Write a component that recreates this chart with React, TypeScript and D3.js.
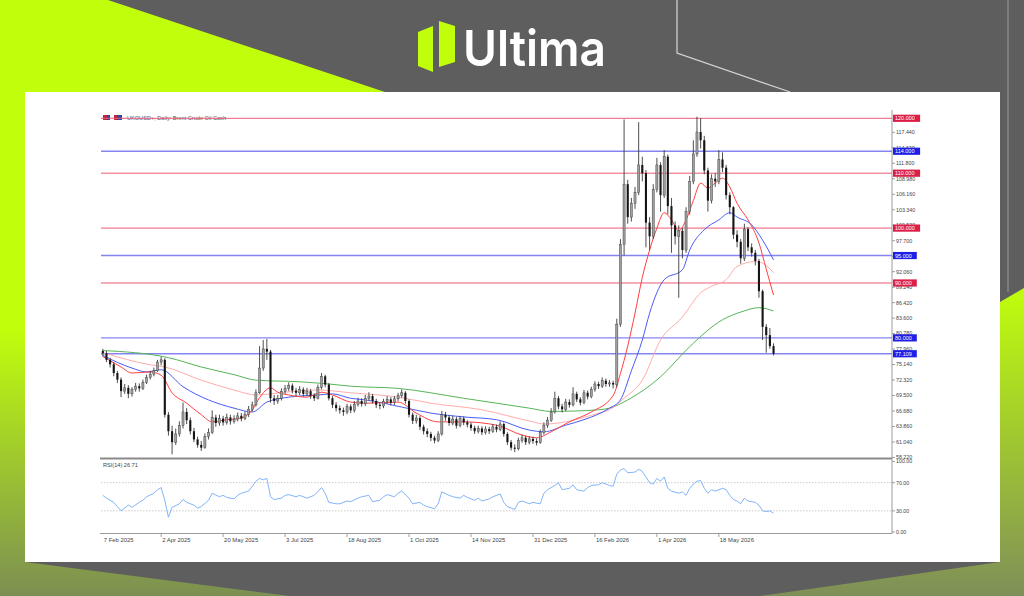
import React from "react";
import * as d3 from "d3";

const W = 1024;
const H = 596;

// ---- Price data (2-day bars), open = previous close ----
const firstOpen = 77.6;
const closes = [
  77.2, 76.0, 75.2, 73.6, 72.4, 70.3, 70.9, 69.8, 70.6, 71.2,
  70.8, 71.9, 72.8, 73.4, 74.0, 75.6, 76.0, 66.0, 63.0, 61.0,
  62.5, 64.0, 66.5, 65.0, 63.0, 61.5, 60.5, 60.0, 62.0, 62.8,
  65.5, 64.5, 65.3, 64.6, 65.5, 64.8, 65.2, 65.8, 65.3, 66.0,
  67.0, 67.8, 70.0, 74.5, 78.0, 77.5, 69.0, 68.5, 69.0, 70.2,
  70.8, 71.3, 70.4, 70.0, 70.6, 69.8, 70.3, 69.5, 69.0, 71.0,
  73.0, 71.5, 69.0, 67.8, 67.2, 66.8, 66.5, 67.5, 66.8, 67.9,
  68.5, 68.0, 69.0, 69.4, 68.5, 67.8, 67.6, 68.4, 68.8, 68.2,
  68.9, 69.5, 70.0, 68.5, 66.0, 64.9, 65.4, 63.8, 63.0, 62.5,
  61.8, 61.3, 62.5, 66.0, 65.5, 64.5, 65.2, 64.0, 65.3, 64.6,
  64.2, 63.6, 63.0, 63.5, 62.8, 63.4, 63.0, 63.8, 63.3, 64.3,
  62.5, 61.0, 60.0, 59.8, 61.3, 61.8, 61.0, 61.6, 61.2, 60.9,
  62.8, 64.0, 65.0, 66.5, 69.0, 67.5, 67.0, 68.3, 67.8, 69.8,
  68.8, 68.2, 70.0, 69.3, 70.6, 71.6, 71.2, 72.2, 71.6, 71.8,
  71.5, 82.5, 97.0, 108.0, 102.0, 104.5, 106.5, 111.5, 110.0, 101.0,
  98.5, 107.0, 111.5, 106.0, 113.0, 104.0, 100.5, 98.5, 99.5, 96.0,
  103.0, 108.5, 113.5, 117.5, 116.0, 110.5, 105.0, 109.0, 108.5, 112.5,
  111.0, 106.0, 103.8, 98.8, 97.5, 94.5, 99.8, 96.5, 95.5, 94.0,
  88.5, 82.0, 80.5, 78.5, 77.1,
];
const highs = [
  78.0, 77.6, 76.4, 75.6, 74.0, 72.8, 71.6, 71.4, 71.0, 71.8,
  71.7, 72.4, 73.3, 74.0, 74.6, 76.0, 76.6, 76.3, 66.5, 64.0,
  63.5, 64.8, 68.2, 67.2, 65.5, 63.6, 62.0, 61.2, 62.6, 63.5,
  66.8, 66.0, 66.0, 65.8, 66.2, 66.0, 65.9, 66.4, 66.3, 66.6,
  67.6, 68.4, 70.6, 78.5, 79.6, 79.8, 77.8, 69.6, 69.6, 70.8,
  71.4, 71.9, 71.7, 70.9, 71.2, 71.0, 70.9, 70.7, 69.9, 71.5,
  73.6, 73.3, 71.8, 69.4, 68.3, 67.7, 67.3, 68.0, 67.9, 68.5,
  69.1, 69.0, 69.6, 70.1, 69.8, 68.9, 68.3, 68.9, 69.4, 69.2,
  69.4, 70.0, 70.6, 70.3, 68.8, 66.4, 66.0, 65.8, 64.2, 63.5,
  62.9, 62.2, 63.0, 66.7, 66.5, 65.9, 65.8, 65.6, 65.8, 65.7,
  65.0, 64.6, 64.0, 64.0, 63.9, 63.9, 63.8, 64.3, 64.2, 64.8,
  64.6, 62.8, 61.4, 60.6, 61.8, 62.4, 62.2, 62.1, 62.0, 61.7,
  63.3, 64.6, 65.6, 67.2, 70.2, 69.4, 68.0, 68.9, 68.8, 71.0,
  70.2, 69.2, 70.5, 70.4, 71.1, 72.1, 72.0, 72.8, 72.6, 72.3,
  72.2, 83.5, 98.0, 119.8, 108.8, 105.5, 107.5, 119.3, 113.0, 110.6,
  102.0, 108.0, 112.8, 112.0, 114.2, 113.4, 105.5, 101.2, 100.5, 100.0,
  103.8, 109.5, 116.0, 120.3, 120.0, 116.8, 111.0, 109.8, 110.0, 114.2,
  113.8, 111.5, 106.5, 104.0, 99.6, 98.0, 100.8, 100.2, 97.2, 96.0,
  94.4, 88.8, 82.5, 81.8, 79.0,
];
const lows = [
  76.6, 75.6, 74.6, 73.0, 71.8, 69.2, 69.8, 69.0, 69.3, 70.2,
  70.2, 70.5, 71.6, 72.4, 73.0, 73.8, 75.0, 65.5, 62.2, 58.8,
  60.5, 62.0, 63.5, 64.3, 62.4, 61.0, 60.0, 59.4, 59.8, 61.5,
  62.5, 63.8, 64.0, 64.0, 64.2, 64.2, 64.4, 64.8, 64.8, 65.0,
  65.6, 66.6, 67.5, 69.8, 74.0, 76.0, 68.2, 67.8, 68.0, 68.6,
  69.8, 70.3, 69.9, 69.4, 69.6, 69.3, 69.4, 68.9, 68.5, 68.8,
  70.6, 71.0, 68.6, 67.2, 66.6, 66.2, 65.8, 66.1, 66.3, 66.4,
  67.5, 67.5, 67.6, 68.6, 68.0, 67.2, 67.0, 67.2, 68.0, 67.7,
  67.8, 68.5, 69.1, 68.0, 65.5, 64.3, 64.4, 63.2, 62.4, 61.9,
  61.2, 60.8, 61.0, 62.2, 64.9, 64.0, 64.1, 63.5, 63.7, 64.1,
  63.7, 63.1, 62.5, 62.6, 62.3, 62.4, 62.5, 62.7, 62.8, 63.0,
  62.0, 60.5, 59.5, 59.2, 59.5, 60.9, 60.5, 60.6, 60.7, 60.4,
  60.7, 62.4, 63.6, 64.7, 66.2, 67.0, 66.4, 66.7, 67.3, 67.5,
  68.3, 67.7, 67.9, 68.8, 69.0, 70.2, 70.7, 70.9, 71.1, 71.1,
  70.8, 71.0, 82.0, 95.0, 100.8, 101.2, 103.5, 106.0, 108.5, 96.5,
  96.0, 98.0, 106.5, 103.0, 105.5, 102.5, 95.5, 97.0, 87.3, 94.5,
  95.5, 102.5, 108.0, 113.0, 114.5, 109.8, 103.0, 104.5, 107.5, 108.0,
  110.2, 105.2, 102.5, 98.0, 96.5, 93.5, 94.0, 95.8, 94.8, 93.2,
  87.3, 79.6, 77.3, 78.0, 76.8,
];

// ---- Moving averages: [bar, value] ----
const maRed: [number, number][] = [
  [0, 76.6], [5, 74.7], [8, 73.6], [13, 73.8], [16, 73.2], [19, 70.0], [23, 68.1], [27, 66.0],
  [30, 64.7], [34, 65.1], [38, 65.4], [41, 66.9], [43, 69.1], [46, 70.9], [48, 70.1], [51, 69.6],
  [56, 69.2], [60, 70.1], [63, 69.6], [68, 68.3], [72, 68.1], [81, 68.3], [86, 66.3], [92, 64.7],
  [99, 64.7], [108, 64.1], [115, 62.3], [119, 61.8], [123, 62.9], [128, 64.7], [134, 66.5],
  [140, 69.5], [142, 73.5], [144, 78.5], [146, 84.5], [148, 91.0], [150, 96.0], [152, 100.0],
  [154, 102.8], [156, 101.5], [158, 99.5], [160, 101.5], [162, 105.0], [164, 108.2], [166, 107.3],
  [168, 108.2], [170, 109.1], [172, 107.5], [174, 104.5], [177, 101.5], [180, 97.3], [182, 92.5],
  [184, 87.8],
];
const maBlue: [number, number][] = [
  [0, 76.8], [8, 74.5], [12, 73.8], [16, 74.2], [22, 71.1], [29, 68.7], [36, 67.2], [41, 66.5],
  [45, 68.3], [51, 69.2], [59, 69.6], [63, 69.8], [68, 69.0], [72, 68.7], [82, 67.4], [90, 66.3],
  [99, 65.6], [108, 65.1], [117, 63.2], [121, 62.9], [127, 64.1], [132, 65.1], [139, 67.2],
  [142, 68.7], [145, 74.0], [148, 79.6], [150, 84.5], [154, 90.6], [159, 92.4], [161, 96.0],
  [165, 99.7], [169, 101.5], [172, 102.8], [174, 102.0], [178, 100.6], [181, 97.8], [184, 94.2],
];
const maPink: [number, number][] = [
  [0, 77.3], [13, 75.1], [17, 74.7], [27, 72.3], [36, 70.5], [42, 69.6], [50, 70.1], [59, 70.5],
  [68, 70.0], [81, 69.2], [90, 68.1], [104, 66.9], [118, 64.7], [121, 64.3], [127, 64.7],
  [136, 66.3], [139, 66.9], [143, 69.0], [148, 72.3], [153, 79.6], [159, 83.8], [164, 88.2],
  [167, 89.4], [171, 90.6], [174, 93.0], [179, 93.9], [181, 93.6], [184, 91.9],
];
const maGreen: [number, number][] = [
  [0, 77.7], [18, 76.4], [27, 74.7], [36, 73.3], [42, 72.3], [54, 72.0], [62, 71.6], [68, 71.2],
  [81, 70.8], [99, 69.0], [117, 67.2], [123, 66.6], [136, 66.9], [139, 67.2], [144, 68.7],
  [153, 72.9], [161, 78.4], [170, 83.3], [175, 84.7], [180, 85.5], [184, 84.9],
];

// ---- RSI(14): [bar, value] ----
const rsiSeries: [number, number][] = [
  [0, 52], [1, 48], [3, 42], [4, 36], [5, 30], [7, 38], [8, 35], [10, 42], [11, 45], [12, 50],
  [14, 55], [15, 60], [16, 63], [17, 45], [18, 21], [19, 35], [21, 40], [22, 46], [23, 42],
  [25, 38], [26, 34], [27, 36], [29, 45], [30, 55], [32, 50], [33, 52], [34, 49], [36, 47],
  [37, 52], [38, 55], [40, 58], [41, 65], [42, 72], [43, 76], [44, 74], [45, 76], [46, 50],
  [47, 46], [49, 48], [50, 52], [51, 53], [53, 50], [54, 52], [56, 48], [57, 50], [58, 52],
  [60, 63], [61, 55], [62, 42], [64, 40], [65, 40], [67, 44], [68, 43], [70, 48], [71, 50],
  [73, 52], [74, 43], [76, 45], [77, 50], [78, 53], [80, 50], [81, 55], [82, 58], [84, 48],
  [85, 40], [87, 42], [88, 38], [89, 36], [91, 33], [92, 40], [93, 57], [95, 52], [96, 50],
  [98, 48], [99, 52], [100, 49], [102, 45], [103, 48], [104, 44], [106, 47], [107, 50],
  [109, 54], [110, 42], [111, 36], [113, 32], [114, 42], [115, 44], [117, 40], [118, 42],
  [120, 40], [121, 55], [122, 60], [124, 66], [125, 70], [126, 60], [128, 62], [129, 67],
  [130, 60], [132, 58], [133, 63], [134, 66], [136, 67], [137, 70], [139, 66], [140, 65],
  [141, 82], [142, 88], [143, 90], [144, 84], [146, 85], [147, 89], [148, 86], [150, 70],
  [151, 68], [152, 76], [153, 72], [154, 78], [155, 62], [156, 58], [158, 55], [159, 57],
  [160, 52], [161, 62], [162, 68], [163, 72], [164, 73], [165, 62], [166, 55], [167, 60],
  [168, 58], [170, 62], [171, 60], [172, 52], [173, 46], [174, 44], [175, 40], [176, 48],
  [177, 44], [179, 42], [180, 38], [181, 30], [182, 29], [183, 30], [184, 26.7],
];

// ---- Axis labels & levels ----
const dateLabels = [
  "7 Feb 2025", "2 Apr 2025", "20 May 2025", "3 Jul 2025", "18 Aug 2025", "1 Oct 2025",
  "14 Nov 2025", "31 Dec 2025", "16 Feb 2026", "1 Apr 2026", "18 May 2026",
];
const dateBars = [0, 16, 33, 50, 67, 84, 101, 118, 135, 152, 169];
const priceTickLabels = [
  "117.440", "114.620", "111.800", "108.980", "106.160", "103.340", "100.520", "97.700",
  "94.880", "92.060", "89.240", "86.420", "83.600", "80.780", "77.960", "75.140", "72.320",
  "69.500", "66.680", "63.860", "61.040", "58.220",
];
const levelValues = [120, 114, 110, 100, 95, 90, 80, 77.109];
const levelLabels = ["120.000", "114.000", "110.000", "100.000", "95.000", "90.000", "80.000", "77.109"];
const levelKinds = ["red", "blue", "red", "red", "blue", "red", "blue", "blue"];
const rsiTickValues = [100, 70, 30, 0];
const rsiTickLabels = ["100.00", "70.00", "30.00", "0.00"];
const chartTitle = "UKOUSD+, Daily:  Brent Crude Oil Cash";
const rsiTitle = "RSI(14) 26.71";
const brand = "Ultima";

const LIME = "#c0fe0c";
const AXIS_FONT = "'Liberation Sans', Arial, sans-serif";

export default function App() {
  const x = d3.scaleLinear().domain([-0.5, 216.5]).range([101, 892]);
  const y = d3.scaleLinear().domain([58.1, 120]).range([458.1, 118.3]);
  const yR = d3.scaleLinear().domain([0, 100]).range([532, 461.5]);

  const bars = closes.map((c, i) => {
    const o = i === 0 ? firstOpen : closes[i - 1];
    return { i, o, c, h: Math.max(highs[i], o, c), l: Math.min(lows[i], o, c) };
  });

  const maLine = d3
    .line<[number, number]>()
    .x((d) => x(d[0]))
    .y((d) => y(d[1]))
    .curve(d3.curveMonotoneX);
  const rsiLine = d3
    .line<[number, number]>()
    .x((d) => x(d[0]))
    .y((d) => yR(d[1]));

  const bodyW = 2.1;
  const chartLeft = 101;
  const chartRight = 892;

  return (
    <svg
      width={W}
      height={H}
      viewBox={`0 0 ${W} ${H}`}
      style={{ position: "absolute", left: 0, top: 0, display: "block" }}
    >
      <defs>
        <linearGradient id="leftFade" x1="0" y1="0" x2="0" y2="1">
          <stop offset="0" stopColor={LIME} />
          <stop offset="1" stopColor="#7c8f52" />
        </linearGradient>
        <linearGradient id="rightFade" x1="0" y1="0" x2="0" y2="1">
          <stop offset="0" stopColor={LIME} />
          <stop offset="1" stopColor="#7f8f58" />
        </linearGradient>
      </defs>

      {/* Banner background */}
      <rect x={0} y={0} width={W} height={H} fill="#5e5e5e" />
      <polygon points="0,0 108,0 385,92 25,92 25,330 0,330" fill={LIME} />
      <polygon points="0,330 25,330 25,562 290,596 0,596" fill="url(#leftFade)" />
      <polygon points="1024,288 1000,302 1000,562 760,596 1024,596" fill="url(#rightFade)" />
      <path d="M677,0 V53 L790,92" fill="none" stroke="#d8d8d8" strokeWidth={1.2} />
      <line x1={1008} y1={0} x2={1008} y2={292} stroke="#9a9a9a" strokeWidth={1} />

      {/* Logo */}
      <polygon points="418,32 433,26 433,72 418,66" fill={LIME} />
      <polygon points="439,21 455,26 455,62 439,67" fill={LIME} />
      <text
        x={463}
        y={65.5}
        fill="#ffffff"
        fontFamily="Inter, 'Open Sans', sans-serif"
        fontWeight={600}
        fontSize={50}
        textLength={143}
        lengthAdjust="spacingAndGlyphs"
      >
        {brand}
      </text>

      {/* White panel */}
      <rect x={25} y={92} width={975} height={470} fill="#ffffff" />

      {/* Header */}
      <rect x={103} y={115} width={4} height={5} fill="#b8283c" />
      <rect x={107} y={115} width={3} height={5} fill="#2d4aa0" />
      <rect x={114} y={115} width={3} height={5} fill="#b8283c" />
      <rect x={117} y={115} width={5} height={5} fill="#2d4aa0" />
      <text x={127} y={119.8} fontSize={5.6} fill="#555" fontFamily={AXIS_FONT}>
        {chartTitle}
      </text>

      {/* Level lines */}
      {levelValues.map((v, k) => (
        <line
          key={"lv" + k}
          x1={chartLeft}
          x2={chartRight}
          y1={y(v)}
          y2={y(v)}
          stroke={levelKinds[k] === "red" ? "#ee5a76" : "#8585f2"}
          strokeWidth={levelKinds[k] === "red" ? 1 : 1.4}
        />
      ))}

      {/* Moving averages */}
      <path d={maLine(maGreen) || ""} fill="none" stroke="#55b555" strokeWidth={1} />
      <path d={maLine(maPink) || ""} fill="none" stroke="#ffacac" strokeWidth={1} />
      <path d={maLine(maBlue) || ""} fill="none" stroke="#4b5cf5" strokeWidth={1} />
      <path d={maLine(maRed) || ""} fill="none" stroke="#ff4040" strokeWidth={1} />

      {/* Candles */}
      {bars.map((b) => {
        const cx = x(b.i);
        const top = y(Math.max(b.o, b.c));
        const bot = y(Math.min(b.o, b.c));
        const up = b.c >= b.o;
        return (
          <g key={"c" + b.i}>
            <line x1={cx} x2={cx} y1={y(b.h)} y2={y(b.l)} stroke="#3a3a3a" strokeWidth={0.9} />
            <rect
              x={cx - bodyW / 2}
              y={top}
              width={bodyW}
              height={Math.max(0.8, bot - top)}
              fill={up ? "#a0a0a0" : "#151515"}
              stroke={up ? "#4a4a4a" : "none"}
              strokeWidth={0.5}
            />
          </g>
        );
      })}

      {/* Price axis */}
      <line x1={chartRight} x2={chartRight} y1={110} y2={534} stroke="#9c9c9c" strokeWidth={1} />
      {priceTickLabels.map((t, k) => {
        const yy = y(parseFloat(t));
        return (
          <g key={"pt" + k}>
            <line x1={chartRight} x2={chartRight + 3} y1={yy} y2={yy} stroke="#888" strokeWidth={0.8} />
            <text x={chartRight + 4} y={yy + 1.9} fontSize={5.3} fill="#444" fontFamily={AXIS_FONT}>
              {t}
            </text>
          </g>
        );
      })}
      {levelValues.map((v, k) => {
        const yy = y(v);
        const wBox = 4 + levelLabels[k].length * 3.3;
        return (
          <g key={"lb" + k}>
            <rect
              x={chartRight + 1}
              y={yy - 3.6}
              width={wBox}
              height={7.2}
              fill={levelKinds[k] === "red" ? "#dc1f48" : "#1e1ee6"}
            />
            <text x={chartRight + 3} y={yy + 2} fontSize={5.5} fill="#ffffff" fontFamily={AXIS_FONT}>
              {levelLabels[k]}
            </text>
          </g>
        );
      })}

      {/* Separator between panels */}
      <line x1={chartLeft - 1} x2={chartRight} y1={458.5} y2={458.5} stroke="#8a8a8a" strokeWidth={2} />

      {/* RSI panel */}
      <text x={103} y={466.5} fontSize={5.6} fill="#444" fontFamily={AXIS_FONT}>
        {rsiTitle}
      </text>
      {[70, 30].map((v) => (
        <line
          key={"rl" + v}
          x1={chartLeft}
          x2={chartRight}
          y1={yR(v)}
          y2={yR(v)}
          stroke="#b5b5b5"
          strokeWidth={0.7}
          strokeDasharray="1.5,1.5"
        />
      ))}
      <path d={rsiLine(rsiSeries) || ""} fill="none" stroke="#74acf7" strokeWidth={0.9} />
      {rsiTickValues.map((v, k) => (
        <g key={"rt" + k}>
          <line x1={chartRight} x2={chartRight + 3} y1={yR(v)} y2={yR(v)} stroke="#888" strokeWidth={0.8} />
          <text x={chartRight + 4} y={yR(v) + 1.9} fontSize={5.3} fill="#444" fontFamily={AXIS_FONT}>
            {rsiTickLabels[k]}
          </text>
        </g>
      ))}

      {/* Time axis */}
      <line x1={chartLeft - 1} x2={chartRight} y1={533.5} y2={533.5} stroke="#9c9c9c" strokeWidth={1} />
      {dateBars.map((bi, k) => {
        const xx = x(bi);
        return (
          <g key={"dt" + k}>
            {k > 0 && <line x1={xx} x2={xx} y1={533.5} y2={537} stroke="#888" strokeWidth={0.8} />}
            <text x={xx + 1} y={542} fontSize={5.9} fill="#444" fontFamily={AXIS_FONT}>
              {dateLabels[k]}
            </text>
          </g>
        );
      })}
    </svg>
  );
}
